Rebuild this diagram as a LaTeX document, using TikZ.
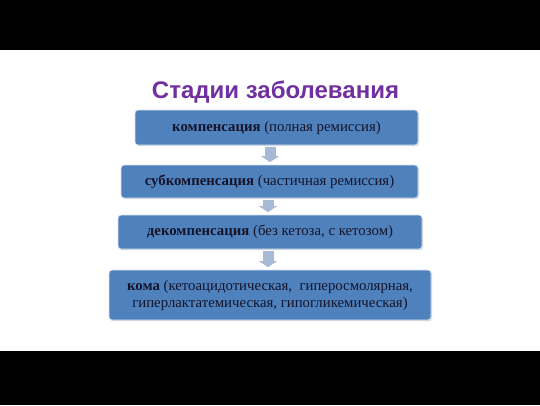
\documentclass[tikz,border=0pt]{standalone}
\usepackage{fontspec}
\setmainfont{Liberation Serif}
\newfontfamily\titlefont{Liberation Sans}
\usetikzlibrary{arrows.meta,shadows,calc}
\definecolor{boxblue}{HTML}{4F81BD}
\definecolor{boxedge}{HTML}{DCE6F2}
\definecolor{arrowgrey}{HTML}{A7B9D6}
\definecolor{titlepurple}{HTML}{7030A0}
\definecolor{textdark}{HTML}{14142A}
\begin{document}
\begin{tikzpicture}[x=1pt,y=-1pt,
  stagebox/.style={draw=boxedge,line width=0.8pt,fill=boxblue,rounded corners=3pt,
    text=textdark,font=\fontsize{14.8}{17}\selectfont,align=center,inner sep=0pt,
    drop shadow={opacity=0.3,shadow xshift=1pt,shadow yshift=-1.2pt}},
  downarrow/.style={draw=arrowgrey,line width=11pt,
    -{Triangle[width=18pt,length=6pt]},shorten <=2pt,shorten >=2.5pt}]
\useasboundingbox (0,0) rectangle (540,405);
\fill[white] (0,0) rectangle (540,405);
\fill[black] (0,0) rectangle (540,50);
\fill[black] (0,351) rectangle (540,405);
\node[text=titlepurple,font=\titlefont\bfseries\fontsize{24}{27}\selectfont,anchor=base] (title) at (275.5,98) {Стадии заболевания};
\node[stagebox,minimum width=283pt,minimum height=35pt] (b1) at (276.5,127.5) {\textbf{компенсация} (полная ремиссия)};
\node[stagebox,minimum width=297pt,minimum height=33pt] (b2) at (269.5,181.5) {\textbf{субкомпенсация} (частичная ремиссия)};
\node[stagebox,minimum width=304pt,minimum height=34pt] (b3) at (270,232) {\textbf{декомпенсация} (без кетоза, с кетозом)};
\node[stagebox,minimum width=322pt,minimum height=50pt] (b4) at (270,295) {\textbf{кома} (кетоацидотическая,\ \ гиперосмолярная,\\гиперлактатемическая, гипогликемическая)};
\draw[downarrow] ([xshift=-6.5pt]b1.south) -- ([xshift=0.5pt]b2.north);
\draw[downarrow] ([xshift=-1.5pt]b2.south) -- ([xshift=-2pt]b3.north);
\draw[downarrow] ([xshift=-2pt]b3.south) -- ([xshift=-2pt]b4.north);
\end{tikzpicture}
\end{document}
